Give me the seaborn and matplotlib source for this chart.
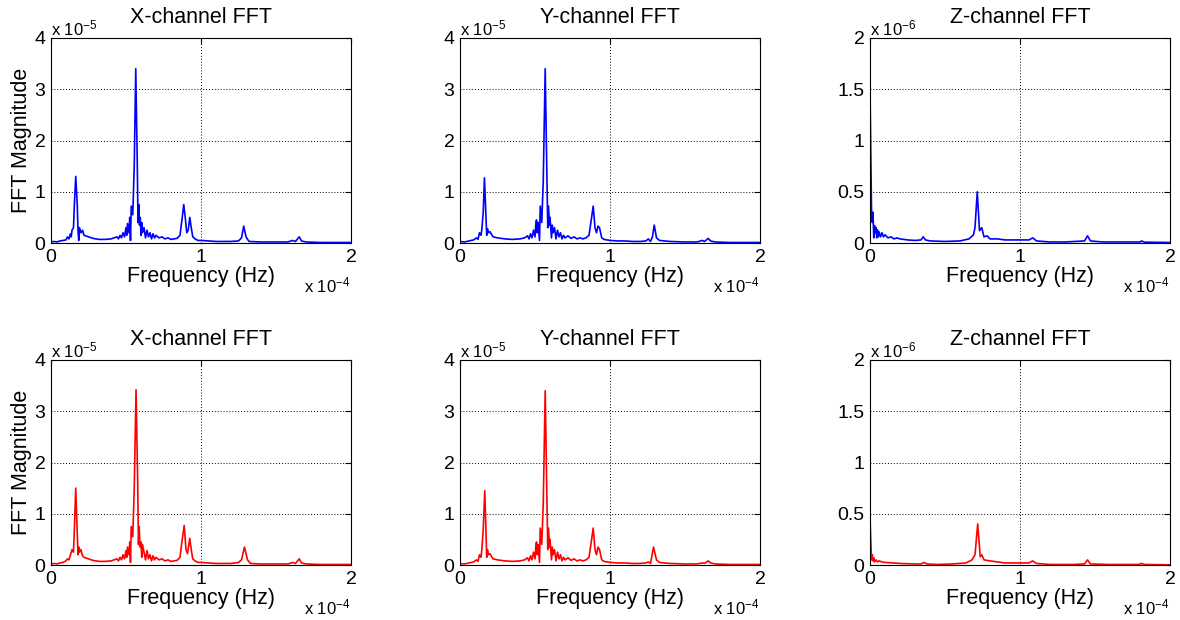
import numpy as np
import pandas as pd
import matplotlib
matplotlib.use("Agg")
import matplotlib.pyplot as plt
import seaborn as sns

# frequencies in units of 1e-4 Hz, magnitudes in units of 1e-5 (X, Y) or 1e-6 (Z)

# ---- X channel, top (blue)
fx_top = [0.00, 0.02, 0.04, 0.06, 0.08, 0.10, 0.11, 0.12, 0.13, 0.135, 0.14, 0.15, 0.155, 0.165, 0.175,
          0.18, 0.185, 0.19, 0.20, 0.21, 0.22, 0.25, 0.28, 0.32, 0.36, 0.40, 0.42, 0.44, 0.45, 0.46,
          0.47, 0.48, 0.49, 0.50, 0.505, 0.51, 0.52, 0.525, 0.53, 0.535, 0.545, 0.555, 0.565, 0.575, 0.58,
          0.585, 0.59, 0.595, 0.60, 0.605, 0.61, 0.62, 0.63, 0.64, 0.65, 0.66, 0.67, 0.68, 0.69, 0.70,
          0.72, 0.74, 0.76, 0.78, 0.80, 0.82, 0.84, 0.86, 0.875, 0.885, 0.895, 0.905, 0.915, 0.925, 0.935,
          0.945, 0.96, 0.98, 1.00, 1.05, 1.10, 1.15, 1.20, 1.25, 1.27, 1.285, 1.30, 1.32, 1.40, 1.50,
          1.58, 1.61, 1.63, 1.655, 1.67, 1.70, 1.80, 1.90, 2.00]
mx_top = [0.02, 0.03, 0.02, 0.04, 0.05, 0.06, 0.12, 0.08, 0.18, 0.12, 0.25, 0.30, 0.70, 1.30, 0.75,
          0.25, 0.05, 0.30, 0.20, 0.25, 0.15, 0.12, 0.09, 0.07, 0.07, 0.08, 0.10, 0.12, 0.08, 0.15,
          0.10, 0.20, 0.12, 0.30, 0.15, 0.38, 0.20, 0.50, 0.05, 0.72, 0.55, 1.50, 3.40, 1.60, 0.40,
          0.75, 0.35, 0.50, 0.15, 0.40, 0.20, 0.30, 0.10, 0.25, 0.12, 0.20, 0.08, 0.18, 0.10, 0.15,
          0.10, 0.12, 0.08, 0.10, 0.07, 0.08, 0.09, 0.15, 0.50, 0.75, 0.50, 0.20, 0.25, 0.50, 0.30,
          0.12, 0.08, 0.05, 0.05, 0.04, 0.03, 0.03, 0.03, 0.04, 0.10, 0.33, 0.12, 0.03, 0.02, 0.02,
          0.02, 0.05, 0.03, 0.12, 0.04, 0.02, 0.01, 0.01, 0.01]

# ---- Y channel, top (blue)
fy_top = [0.00, 0.03, 0.06, 0.09, 0.11, 0.12, 0.13, 0.14, 0.145, 0.155, 0.163, 0.172, 0.178, 0.183, 0.19,
          0.20, 0.22, 0.25, 0.30, 0.35, 0.40, 0.43, 0.45, 0.46, 0.47, 0.48, 0.49, 0.50, 0.505, 0.51,
          0.515, 0.52, 0.53, 0.535, 0.545, 0.555, 0.568, 0.58, 0.585, 0.59, 0.597, 0.60, 0.61, 0.615, 0.62,
          0.63, 0.64, 0.65, 0.66, 0.67, 0.68, 0.69, 0.70, 0.72, 0.74, 0.76, 0.78, 0.80, 0.82, 0.84,
          0.86, 0.875, 0.888, 0.90, 0.91, 0.92, 0.93, 0.945, 0.96, 0.98, 1.00, 1.05, 1.10, 1.15, 1.20,
          1.24, 1.255, 1.27, 1.283, 1.295, 1.31, 1.33, 1.40, 1.50, 1.58, 1.615, 1.63, 1.655, 1.67, 1.70,
          1.80, 2.00]
my_top = [0.03, 0.02, 0.04, 0.06, 0.10, 0.07, 0.20, 0.15, 0.25, 0.60, 1.27, 0.60, 0.15, 0.28, 0.20,
          0.22, 0.12, 0.10, 0.08, 0.07, 0.08, 0.10, 0.14, 0.08, 0.18, 0.10, 0.25, 0.12, 0.35, 0.45,
          0.20, 0.40, 0.05, 0.72, 0.40, 1.20, 3.40, 1.20, 0.30, 0.72, 0.35, 0.50, 0.10, 0.35, 0.20,
          0.30, 0.08, 0.25, 0.12, 0.20, 0.08, 0.15, 0.10, 0.14, 0.09, 0.12, 0.08, 0.10, 0.08, 0.10,
          0.15, 0.45, 0.72, 0.30, 0.20, 0.33, 0.30, 0.10, 0.07, 0.06, 0.05, 0.04, 0.04, 0.03, 0.03,
          0.04, 0.08, 0.03, 0.12, 0.35, 0.10, 0.05, 0.03, 0.02, 0.02, 0.05, 0.03, 0.09, 0.04, 0.02,
          0.01, 0.01]

# ---- Z channel, top (blue)
fz_top = [0.000, 0.005, 0.010, 0.015, 0.020, 0.025, 0.030, 0.035, 0.040, 0.045, 0.050, 0.055, 0.060, 0.070,
          0.080, 0.090, 0.100, 0.120, 0.140, 0.160, 0.180, 0.200, 0.250, 0.300, 0.340, 0.355, 0.370, 0.400,
          0.500, 0.600, 0.660, 0.690, 0.700, 0.715, 0.730, 0.745, 0.760, 0.780, 0.800, 0.850, 0.900, 1.000,
          1.060, 1.085, 1.110, 1.200, 1.300, 1.430, 1.450, 1.470, 1.550, 1.700, 1.800, 1.810, 1.830, 2.000]
mz_top = [1.52, 0.90, 0.33, 0.20, 0.30, 0.05, 0.17, 0.10, 0.15, 0.05, 0.13, 0.06, 0.11, 0.06,
          0.10, 0.06, 0.08, 0.05, 0.06, 0.04, 0.05, 0.04, 0.03, 0.025, 0.03, 0.06, 0.03, 0.02,
          0.015, 0.02, 0.04, 0.08, 0.15, 0.50, 0.12, 0.15, 0.06, 0.07, 0.04, 0.04, 0.03, 0.03,
          0.03, 0.05, 0.02, 0.01, 0.01, 0.02, 0.07, 0.02, 0.01, 0.01, 0.01, 0.02, 0.008, 0.005]

# ---- X channel, bottom (red)
fx_bot = [0.00, 0.02, 0.04, 0.06, 0.08, 0.10, 0.11, 0.12, 0.13, 0.14, 0.15, 0.157, 0.165, 0.173, 0.18,
          0.185, 0.19, 0.20, 0.21, 0.22, 0.25, 0.28, 0.32, 0.36, 0.40, 0.42, 0.44, 0.45, 0.46, 0.47,
          0.48, 0.49, 0.50, 0.505, 0.51, 0.52, 0.525, 0.53, 0.535, 0.545, 0.555, 0.567, 0.578, 0.583, 0.588,
          0.593, 0.60, 0.605, 0.61, 0.62, 0.63, 0.64, 0.65, 0.66, 0.67, 0.68, 0.69, 0.70, 0.72, 0.74,
          0.76, 0.78, 0.80, 0.82, 0.84, 0.86, 0.875, 0.888, 0.90, 0.91, 0.925, 0.935, 0.945, 0.96, 0.98,
          1.00, 1.05, 1.10, 1.15, 1.20, 1.25, 1.27, 1.29, 1.31, 1.33, 1.40, 1.50, 1.58, 1.61, 1.63,
          1.655, 1.67, 1.70, 1.80, 1.90, 2.00]
mx_bot = [0.02, 0.03, 0.02, 0.04, 0.05, 0.08, 0.12, 0.10, 0.20, 0.30, 0.25, 0.80, 1.50, 0.80, 0.20,
          0.35, 0.25, 0.30, 0.18, 0.15, 0.12, 0.09, 0.07, 0.07, 0.08, 0.10, 0.12, 0.08, 0.15, 0.10,
          0.20, 0.12, 0.28, 0.15, 0.35, 0.20, 0.45, 0.05, 0.75, 0.55, 1.50, 3.42, 1.60, 0.40, 0.75,
          0.35, 0.45, 0.15, 0.40, 0.25, 0.10, 0.28, 0.12, 0.20, 0.08, 0.18, 0.10, 0.15, 0.10, 0.12,
          0.08, 0.10, 0.07, 0.08, 0.09, 0.15, 0.50, 0.77, 0.30, 0.22, 0.52, 0.30, 0.12, 0.08, 0.05,
          0.05, 0.04, 0.03, 0.03, 0.03, 0.05, 0.10, 0.35, 0.10, 0.03, 0.02, 0.02, 0.02, 0.05, 0.03,
          0.12, 0.04, 0.02, 0.01, 0.01, 0.01]

# ---- Y channel, bottom (red)
fy_bot = [0.00, 0.03, 0.06, 0.09, 0.11, 0.12, 0.13, 0.14, 0.145, 0.155, 0.165, 0.173, 0.178, 0.183, 0.19,
          0.20, 0.22, 0.25, 0.30, 0.35, 0.40, 0.43, 0.45, 0.46, 0.47, 0.48, 0.49, 0.50, 0.505, 0.51,
          0.515, 0.52, 0.53, 0.535, 0.545, 0.555, 0.568, 0.58, 0.585, 0.59, 0.597, 0.60, 0.61, 0.615, 0.62,
          0.63, 0.64, 0.65, 0.66, 0.67, 0.68, 0.69, 0.70, 0.72, 0.74, 0.76, 0.78, 0.80, 0.82, 0.84,
          0.86, 0.875, 0.888, 0.90, 0.91, 0.92, 0.93, 0.945, 0.96, 0.98, 1.00, 1.05, 1.10, 1.15, 1.20,
          1.24, 1.255, 1.27, 1.29, 1.31, 1.33, 1.40, 1.50, 1.58, 1.615, 1.63, 1.655, 1.67, 1.70, 1.80,
          2.00]
my_bot = [0.03, 0.02, 0.04, 0.06, 0.10, 0.07, 0.20, 0.15, 0.28, 0.70, 1.45, 0.70, 0.15, 0.30, 0.20,
          0.22, 0.12, 0.10, 0.08, 0.07, 0.08, 0.10, 0.14, 0.08, 0.18, 0.10, 0.25, 0.12, 0.35, 0.45,
          0.20, 0.40, 0.05, 0.72, 0.40, 1.20, 3.40, 1.20, 0.30, 0.72, 0.35, 0.50, 0.10, 0.35, 0.20,
          0.30, 0.08, 0.25, 0.12, 0.20, 0.08, 0.15, 0.10, 0.14, 0.09, 0.12, 0.08, 0.10, 0.08, 0.10,
          0.15, 0.45, 0.72, 0.30, 0.20, 0.35, 0.30, 0.10, 0.07, 0.06, 0.05, 0.04, 0.04, 0.03, 0.03,
          0.04, 0.06, 0.03, 0.35, 0.10, 0.05, 0.03, 0.02, 0.02, 0.04, 0.03, 0.08, 0.04, 0.02, 0.01,
          0.01]

# ---- Z channel, bottom (red)
fz_bot = [0.000, 0.005, 0.010, 0.015, 0.020, 0.025, 0.030, 0.040, 0.050, 0.060, 0.080, 0.100, 0.150, 0.200,
          0.300, 0.340, 0.360, 0.380, 0.450, 0.550, 0.640, 0.680, 0.700, 0.718, 0.735, 0.745, 0.760, 0.800,
          0.900, 1.000, 1.060, 1.085, 1.110, 1.200, 1.350, 1.430, 1.450, 1.470, 1.600, 1.790, 1.810, 1.830,
          2.000]
mz_bot = [0.47, 0.25, 0.05, 0.10, 0.04, 0.07, 0.03, 0.05, 0.03, 0.04, 0.03, 0.025, 0.02, 0.015,
          0.01, 0.01, 0.025, 0.01, 0.005, 0.01, 0.02, 0.05, 0.10, 0.40, 0.08, 0.10, 0.05, 0.04,
          0.02, 0.02, 0.02, 0.04, 0.015, 0.005, 0.005, 0.01, 0.05, 0.01, 0.005, 0.005, 0.015, 0.005,
          0.002]

titles = ["X-channel FFT", "Y-channel FFT", "Z-channel FFT"]
y_exp = ["-5", "-5", "-6"]
y_lims = [4, 4, 2]
y_ticks = [[0, 1, 2, 3, 4], [0, 1, 2, 3, 4], [0, 0.5, 1, 1.5, 2]]
y_ticklabels = [["0", "1", "2", "3", "4"], ["0", "1", "2", "3", "4"], ["0", "0.5", "1", "1.5", "2"]]

series = [[(fx_top, mx_top), (fy_top, my_top), (fz_top, mz_top)],
          [(fx_bot, mx_bot), (fy_bot, my_bot), (fz_bot, mz_bot)]]
row_colors = [(0, 0, 1), (1, 0, 0)]

sns.set_style("white")
plt.rcParams['font.family'] = ['Liberation Sans', 'DejaVu Sans']
plt.rcParams['mathtext.fontset'] = 'custom'
plt.rcParams['mathtext.rm'] = 'Liberation Sans'
plt.rcParams['mathtext.it'] = 'Liberation Sans'
plt.rcParams['text.color'] = 'black'
plt.rcParams['axes.labelcolor'] = 'black'
plt.rcParams['xtick.color'] = 'black'
plt.rcParams['ytick.color'] = 'black'

fig = plt.figure(figsize=(11.8, 6.2), dpi=100)

col_left = [51, 460, 870]
row_top = [38, 360]
ax_w, ax_h = 300, 205

for r in range(2):
    for c in range(3):
        ax = fig.add_axes([col_left[c] / 1180, (620 - row_top[r] - ax_h) / 620, ax_w / 1180, ax_h / 620])
        f, m = series[r][c]
        df = pd.DataFrame({"freq": f, "mag": m})
        sns.lineplot(data=df, x="freq", y="mag", ax=ax, color=row_colors[r], linewidth=1.2,
                     estimator=None, sort=False)
        ax.set_xlim(0, 2)
        ax.set_ylim(0, y_lims[c])
        ax.set_xticks([0, 1, 2])
        ax.set_xticklabels(["0", "1", "2"])
        ax.set_yticks(y_ticks[c])
        ax.set_yticklabels(y_ticklabels[c])
        ax.tick_params(direction="in", length=4, width=0.8, top=True, right=True,
                       labelsize=14, colors="black", pad=4)
        ax.grid(True, color="black", linestyle=(0, (1, 2)), linewidth=0.7)
        for s in ax.spines.values():
            s.set_visible(True)
            s.set_color("black")
            s.set_linewidth(0.8)
        ax.set_title(titles[c], fontsize=15.5, pad=11)
        ax.set_xlabel("Frequency (Hz)", fontsize=15.5, labelpad=0)
        if c == 0:
            ax.set_ylabel("FFT Magnitude", fontsize=15.5, labelpad=2)
        else:
            ax.set_ylabel("")
        ax.text(0.0, 1.0, r"x 10$^{" + y_exp[c] + "}$", transform=ax.transAxes,
                ha="left", va="bottom", fontsize=12)
        ax.text(1.0, -0.16, r"x 10$^{-4}$", transform=ax.transAxes,
                ha="right", va="top", fontsize=12)

plt.savefig("out.png", dpi=100)
